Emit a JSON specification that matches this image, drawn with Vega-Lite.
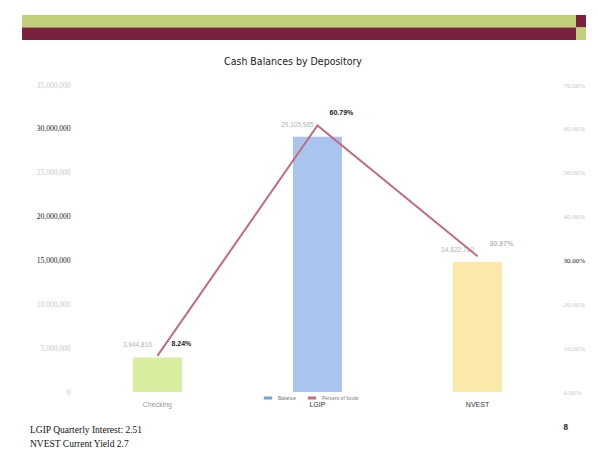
{
  "$schema": "https://vega.github.io/schema/vega-lite/v6.json",
  "background": "white",
  "padding": {"left": 22, "top": 15, "right": 12, "bottom": 0},
  "autosize": {"type": "pad"},
  "spacing": 16,
  "config": {"view": {"stroke": null}},
  "vconcat": [
    {
      "width": 564,
      "height": 25,
      "data": {"values": [
        {"row": "upper", "piece": "band", "tone": "green", "share": 0.9823},
        {"row": "upper", "piece": "end", "tone": "maroon", "share": 0.0177},
        {"row": "lower", "piece": "band", "tone": "maroon", "share": 0.9823},
        {"row": "lower", "piece": "end", "tone": "green", "share": 0.0177}
      ]},
      "mark": {"type": "bar"},
      "encoding": {
        "y": {"field": "row", "type": "nominal", "sort": ["upper", "lower"], "axis": null, "scale": {"paddingInner": 0, "paddingOuter": 0}},
        "x": {"field": "share", "type": "quantitative", "stack": "zero", "axis": null, "scale": {"domain": [0, 1], "nice": false}},
        "order": {"field": "piece", "sort": "ascending"},
        "color": {"field": "tone", "type": "nominal", "scale": {"domain": ["green", "maroon"], "range": ["#c2d07a", "#7b2140"]}, "legend": null}
      }
    },
    {
      "width": 564,
      "height": 307,
      "title": {"text": "Cash Balances by Depository", "font": "Liberation Sans Narrow, DejaVu Sans Condensed, sans-serif", "fontSize": 10.5, "fontWeight": "normal", "color": "#222", "offset": 14, "dx": -11},
      "data": {"values": [
        {"depository": "Checking", "balance": 3944816, "share": 0.0824},
        {"depository": "LGIP", "balance": 29105965, "share": 0.6079},
        {"depository": "NVEST", "balance": 14822710, "share": 0.3097}
      ]},
      "layer": [
        {
          "encoding": {
            "x": {"field": "depository", "type": "nominal", "sort": null, "title": null,
              "scale": {"paddingInner": 0.694, "paddingOuter": 0.609, "align": 0.569},
              "axis": {"labelAngle": 0, "domain": false, "ticks": false, "labelPadding": 8, "labelFont": "Liberation Sans", "labelFontSize": 7, "labelColor": {"condition": {"test": "datum.value === 'Checking'", "value": "#9a9a9a"}, "value": "#333"}}},
            "y": {"field": "balance", "type": "quantitative", "title": null,
              "scale": {"domain": [0, 35000000], "nice": false},
              "axis": {"orient": "left", "offset": -50, "values": [0, 5000000, 10000000, 15000000, 20000000, 25000000, 30000000, 35000000], "format": ",d", "domain": false, "ticks": false, "grid": false, "labelPadding": 2, "labelFont": "Liberation Serif", "labelFontSize": 7.5,
                "labelColor": {"condition": {"test": "datum.value === 30000000 || datum.value === 20000000 || datum.value === 15000000", "value": "#1a1a1a"}, "value": "#c9c9c9"}}}
          },
          "layer": [
            {
              "mark": {"type": "bar"},
              "encoding": {
                "fill": {"field": "depository", "type": "nominal", "scale": {"domain": ["Checking", "LGIP", "NVEST"], "range": ["#d6ee9e", "#aac4f0", "#fbe9aa"]}, "legend": null}
              }
            },
            {
              "mark": {"type": "text", "font": "Liberation Sans", "fontSize": 6.5, "color": "#b3b3b3", "dx": -20, "dy": -12},
              "encoding": {"text": {"field": "balance", "type": "quantitative", "format": ",d"}}
            }
          ]
        },
        {
          "encoding": {
            "x": {"field": "depository", "type": "nominal", "sort": null, "title": null},
            "y": {"field": "share", "type": "quantitative", "title": null,
              "scale": {"domain": [0, 0.7], "nice": false},
              "axis": {"orient": "right", "offset": -25, "values": [0, 0.1, 0.2, 0.3, 0.4, 0.5, 0.6, 0.7], "format": ".2%", "domain": false, "ticks": false, "grid": false, "labelPadding": 2, "labelFont": "Liberation Serif", "labelFontSize": 7,
                "labelColor": {"condition": {"test": "abs(datum.value - 0.3) < 0.001", "value": "#1a1a1a"}, "value": "#c9c9c9"}}}
          },
          "layer": [
            {
              "mark": {"type": "line", "strokeWidth": 2},
              "encoding": {
                "stroke": {"datum": "Percent of funds", "type": "nominal",
                  "scale": {"domain": ["Balance", "Percent of funds"], "range": ["#6fa6dc", "#c46a7c"]},
                  "legend": {"orient": "none", "legendX": 240, "legendY": 377, "direction": "horizontal", "title": null, "symbolType": "stroke", "symbolStrokeWidth": 3, "symbolSize": 70, "labelFontSize": 5, "labelColor": "#777", "labelFont": "Liberation Sans", "columnPadding": 4, "symbolOpacity": 1}}
              }
            },
            {
              "mark": {"type": "text", "font": "Liberation Sans", "fontSize": 7, "fontWeight": "bold", "dx": 24, "dy": -12},
              "encoding": {
                "text": {"field": "share", "type": "quantitative", "format": ".2%"},
                "color": {"condition": {"test": "datum.depository === 'NVEST'", "value": "#b8b8b8"}, "value": "#1a1a1a"}
              }
            }
          ]
        }
      ],
      "resolve": {"scale": {"y": "independent"}}
    },
    {
      "width": 564,
      "height": 14,
      "data": {"values": [
        {"line": "1", "side": "left", "note": "LGIP Quarterly Interest: 2.51"},
        {"line": "2", "side": "left", "note": "NVEST Current Yield 2.7"},
        {"line": "1", "side": "right", "note": "8"}
      ]},
      "encoding": {
        "x": {"field": "side", "type": "nominal", "axis": null, "scale": {"type": "point", "domain": ["left", "right"], "padding": 0}},
        "y": {"field": "line", "type": "nominal", "axis": null, "scale": {"type": "point", "padding": 0}},
        "text": {"field": "note", "type": "nominal"}
      },
      "layer": [
        {
          "transform": [{"filter": "datum.side === 'left'"}],
          "mark": {"type": "text", "align": "left", "dx": 8, "dy": -3, "font": "Liberation Serif", "fontSize": 9.5, "color": "#111"}
        },
        {
          "transform": [{"filter": "datum.side === 'right'"}],
          "mark": {"type": "text", "align": "right", "dx": -18, "dy": -6, "font": "Liberation Serif", "fontSize": 9, "fontWeight": "bold", "color": "#111"}
        }
      ]
    }
  ]
}
